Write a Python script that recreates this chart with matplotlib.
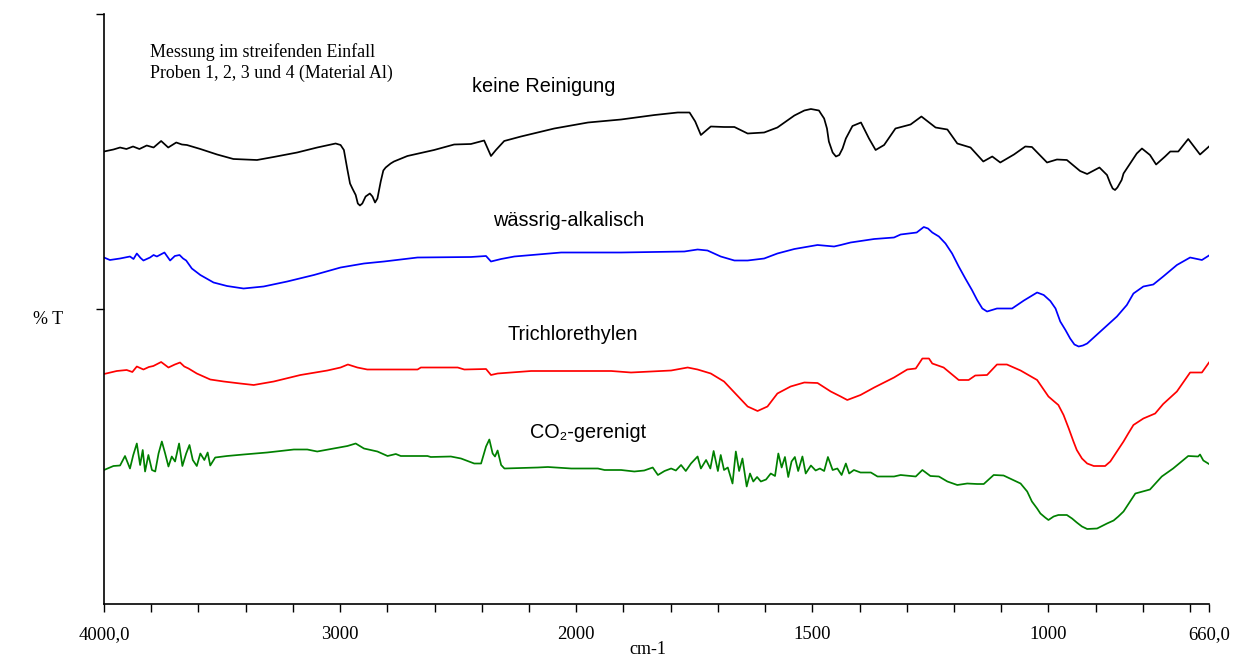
import numpy as np
import matplotlib
matplotlib.use("Agg")
import matplotlib.pyplot as plt


# IR-Spektren (Wellenzahl in cm-1, Transmission in willkürlichen %T-Einheiten, versetzt)
black_wn = [4000, 3960, 3932, 3905, 3877, 3850, 3819, 3790, 3758, 3728, 3694, 3670,
            3649, 3592, 3521, 3452, 3352, 3282, 3182, 3097, 3019, 2998, 2984, 2970,
            2958, 2948, 2934, 2925, 2916, 2906, 2892, 2874, 2863, 2852, 2842, 2828,
            2817, 2807, 2786, 2772, 2715, 2602, 2517, 2446,
            2390, 2361, 2340, 2305, 2234, 2093, 1975, 1905, 1834, 1785, 1760, 1748,
            1736, 1715, 1687, 1665, 1637, 1602, 1574, 1538, 1517, 1503, 1486, 1482,
            1475, 1469, 1465, 1457, 1450, 1443, 1436, 1429, 1415, 1397, 1380, 1366,
            1348, 1324, 1292, 1269,
            1239, 1214, 1193, 1165, 1138, 1119, 1102, 1073, 1049, 1035, 1003, 982,
            961, 933, 918, 892, 876, 869, 864, 859, 854, 845, 841, 827, 813, 802, 785,
            772, 753, 742, 725, 704, 679, 660]
black_t = [90.5, 90.9, 91.3, 91.0, 91.5, 91.0, 91.7, 91.3, 92.6, 91.3, 92.3, 91.9,
           91.8, 91.0, 89.9, 89.0, 88.8, 89.4, 90.3, 91.3, 92.1, 91.8, 90.8, 87.1,
           84.1, 83.1, 81.8, 80.1, 79.7, 80.1, 81.5, 82.1, 81.5, 80.3, 81.1, 84.5,
           86.7, 87.3, 88.1, 88.5, 89.6, 90.8, 91.9, 92.0,
           92.7, 89.6, 90.8, 92.6, 93.5, 95.1, 96.3, 96.9, 97.8, 98.3, 98.3, 96.5,
           93.8, 95.5, 95.4, 95.4, 94.1, 94.3, 95.3, 97.7, 98.7, 99.0, 98.7, 98.1,
           97.1, 95.1, 92.5, 90.3, 89.5, 89.8, 91.1, 93.1, 95.6, 96.3, 93.1, 90.8,
           91.8, 95.1, 95.9, 97.5,
           95.3, 94.9, 92.1, 91.3, 88.5, 89.5, 88.3, 89.9, 91.5, 91.4, 88.3, 88.9,
           88.8, 86.6, 86.0, 87.3, 85.8, 84.1, 83.1, 82.8, 83.3, 84.8, 86.1, 88.1, 90.1,
           91.1, 89.8, 87.9, 89.5, 90.5, 90.5, 93.0, 89.9, 91.5]

blue_wn = [4000, 3975, 3932, 3890, 3875, 3861, 3845, 3833, 3805, 3790, 3776, 3760,
           3744, 3720, 3700, 3680, 3665, 3652, 3628, 3592, 3536, 3479, 3409, 3324,
           3224, 3111, 2998, 2899, 2814, 2672, 2446, 2382, 2361, 2318, 2262, 2163,
           2064, 1905, 1771, 1743, 1722, 1694, 1665, 1637, 1602, 1574, 1538, 1489,
           1454, 1440, 1419, 1369, 1327, 1313, 1279, 1264, 1255, 1246, 1232, 1218,
           1204, 1190, 1176, 1162, 1151, 1140, 1130, 1109, 1077, 1052, 1024, 1010,
           996, 985, 975, 964, 954, 945, 936, 927, 918, 904, 883, 855,
           834, 820, 799, 778, 757, 728, 700, 675, 660]
blue_t = [69.3, 68.8, 69.1, 69.5, 69.0, 70.1, 69.2, 68.7, 69.3, 69.8, 69.5, 69.9,
          70.3, 68.7, 69.6, 69.8, 69.1, 68.7, 67.1, 65.8, 64.3, 63.6, 63.1, 63.5,
          64.5, 65.8, 67.3, 68.1, 68.5, 69.3, 69.4, 69.6, 68.5, 69.0, 69.5, 69.9,
          70.3, 70.3, 70.5, 70.9, 70.7, 69.5, 68.7, 68.7, 69.1, 70.1, 71.0, 71.8,
          71.5, 71.8, 72.3, 73.0, 73.3, 73.9, 74.3, 75.4, 75.1, 74.3, 73.5, 72.1,
          70.1, 67.5, 65.1, 62.8, 60.8, 59.1, 58.5, 59.1, 59.1, 60.7, 62.3, 61.8,
          60.6, 59.1, 56.5, 54.8, 53.1, 51.9, 51.5, 51.7, 52.1, 53.3, 55.1, 57.5,
          59.8, 62.1, 63.5, 63.9, 65.5, 67.8, 69.3, 68.8, 69.7]

red_wn = [4000, 3946, 3904, 3880, 3861, 3833, 3810, 3791, 3758, 3727, 3700, 3678,
          3660, 3642, 3607, 3550, 3493, 3423, 3366, 3281, 3168, 3054, 2998, 2967,
          2927, 2885, 2672, 2658, 2502, 2474, 2382, 2361, 2333, 2191, 1926, 1884,
          1799, 1764, 1743, 1715, 1687, 1658, 1637, 1616, 1595, 1574, 1546, 1517,
          1489, 1461, 1440, 1426, 1398, 1369, 1327, 1299, 1281, 1267, 1253, 1246,
          1222, 1190, 1169, 1155, 1130, 1109, 1088, 1059, 1024, 1000, 989, 979, 968,
          957, 947, 940, 929, 918, 904, 880, 869, 855, 841, 831, 820, 799, 774, 757,
          728, 700, 675, 660]
red_t = [46.0, 46.6, 46.8, 46.4, 47.5, 46.9, 47.4, 47.6, 48.4, 47.3, 47.9, 48.3,
         47.5, 47.1, 46.1, 44.9, 44.5, 44.1, 43.8, 44.5, 45.8, 46.7, 47.3, 47.9,
         47.3, 46.9, 46.9, 47.3, 47.3, 46.9, 47.0, 45.8, 46.1, 46.6, 46.6, 46.3,
         46.7, 47.3, 46.9, 46.1, 44.5, 41.6, 39.5, 38.6, 39.5, 42.1, 43.5, 44.3,
         44.2, 42.5, 41.5, 40.8, 41.8, 43.3, 45.3, 46.9, 47.1, 49.1, 49.1, 48.1,
         47.3, 44.8, 44.8, 45.7, 45.8, 47.9, 47.9, 46.7, 44.8, 41.5, 40.6, 39.8, 37.8,
         35.1, 32.5, 30.8, 29.1, 28.1, 27.6, 27.6, 28.5, 30.5, 32.5, 34.1, 35.8, 37.1,
         38.1, 40.0, 42.5, 46.3, 46.3, 48.3]

green_wn = [4000, 3960, 3932, 3911, 3890, 3876, 3861, 3847, 3836, 3826, 3812, 3797,
            3783, 3769, 3755, 3741, 3727, 3713, 3699, 3682, 3668, 3652, 3638, 3624,
            3607, 3592, 3575, 3561, 3550, 3529, 3479, 3409, 3309, 3196, 3139, 3097,
            3026, 2969, 2934, 2899, 2842, 2799, 2764, 2743, 2630, 2616, 2531, 2488,
            2432, 2403, 2382, 2368, 2354, 2344, 2333, 2318, 2304, 2163, 2120, 2021,
            1954, 1940, 1905, 1877, 1856, 1838, 1827, 1813, 1799, 1789, 1778, 1768,
            1757, 1743, 1736, 1725, 1716, 1709, 1700, 1694, 1687, 1679, 1669, 1662,
            1655, 1648, 1639, 1632, 1625, 1617, 1609, 1598, 1588, 1579, 1572, 1565,
            1558, 1551, 1544, 1537, 1530, 1521, 1514, 1503, 1493, 1484, 1475, 1467,
            1457, 1447, 1438, 1429, 1422, 1412, 1398, 1376, 1362, 1327, 1313, 1281,
            1267, 1250, 1232, 1214, 1193, 1172, 1151, 1137, 1116, 1095, 1059, 1045,
            1035, 1024, 1017, 1007, 1000, 989, 979, 961, 950, 940, 929, 918, 897, 876,
            862, 852, 841, 834, 823, 816, 785, 760, 736, 704, 683, 679, 672, 660]
green_t = [26.8, 27.6, 27.7, 29.6, 27.1, 29.8, 32.1, 27.8, 30.8, 26.5, 29.8, 26.8,
           26.5, 30.1, 32.5, 30.1, 27.5, 29.5, 28.5, 32.1, 27.6, 30.1, 31.8, 28.8,
           27.6, 30.1, 28.8, 30.3, 27.7, 29.3, 29.6, 29.9, 30.3, 30.9, 30.9, 30.5,
           31.1, 31.6, 32.1, 31.1, 30.5, 29.6, 30.0, 29.6, 29.6, 29.4, 29.5, 29.1,
           28.1, 28.1, 31.5, 32.9, 30.1, 29.5, 30.7, 27.8, 27.1, 27.3, 27.4, 27.1,
           27.1, 26.8, 26.8, 26.5, 26.7, 27.3, 25.8, 26.6, 27.1, 26.7, 27.8, 26.6,
           28.1, 29.5, 27.1, 28.8, 27.1, 30.6, 26.6, 29.8, 26.8, 27.3, 24.1, 30.5,
           26.6, 29.1, 23.5, 26.1, 24.5, 25.4, 24.5, 24.9, 26.1, 25.6, 30.1, 27.3,
           29.4, 25.4, 28.5, 29.4, 26.6, 29.5, 26.1, 27.7, 26.7, 27.1, 26.6, 29.4,
           26.8, 27.1, 25.8, 28.1, 26.1, 26.8, 26.3, 26.3, 25.5, 25.5, 25.8, 25.5,
           26.8, 25.6, 25.5, 24.5, 23.8, 24.1, 24.0, 24.0, 25.8, 25.7, 24.1, 22.5,
           20.5, 19.1, 18.1, 17.3, 16.8, 17.5, 17.8, 17.8, 17.1, 16.3, 15.5, 15.0, 15.1,
           16.1, 16.7, 17.5, 18.5, 19.5, 21.1, 22.1, 22.9, 25.5, 27.1, 29.6, 29.5,
           29.9, 28.7, 28.0]

major_ticks = [4000, 3000, 2000, 1500, 1000, 660]
major_labels = ["4000,0", "3000", "2000", "1500", "1000", "660,0"]
minor_ticks = [3800, 3600, 3400, 3200, 2800, 2600, 2400, 2200,
               1900, 1800, 1700, 1600, 1400, 1300, 1200, 1100, 900, 800, 700]


# Abszisse wie am Spektrometer: unterhalb 2000 cm-1 doppelt gedehnt
def wn_forward(x):
    x = np.asarray(x, dtype=float)
    return np.where(x >= 2000, x, 2 * x - 2000)


def wn_inverse(u):
    u = np.asarray(u, dtype=float)
    return np.where(u >= 2000, u, (u + 2000) / 2)


SERIF = ["Liberation Serif", "DejaVu Serif"]
SANS = ["Liberation Sans", "DejaVu Sans"]

fig = plt.figure(figsize=(12.41, 6.62), dpi=100)
ax = fig.add_axes([104 / 1241, 58 / 662, 1105 / 1241, 590 / 662])

line_kw = dict(lw=1.25, solid_joinstyle="round")
ax.plot(black_wn, black_t, color="black", **line_kw)
ax.plot(blue_wn, blue_t, color="#0000ff", **line_kw)
ax.plot(red_wn, red_t, color="#ff0000", **line_kw)
ax.plot(green_wn, green_t, color="#008000", **line_kw)

ax.set_xscale("function", functions=(wn_forward, wn_inverse))
ax.set_xlim(4000, 660)
ax.set_ylim(0, 118)

ax.set_xticks(major_ticks)
ax.set_xticklabels(major_labels, fontfamily=SERIF, fontsize=13.5)
ax.set_xticks(minor_ticks, minor=True)
ax.set_yticks([59, 118])
ax.set_yticklabels([])
ax.tick_params(axis="both", which="both", direction="out", length=6, width=1)
ax.tick_params(axis="x", which="major", pad=10)

for side in ["top", "right"]:
    ax.spines[side].set_visible(False)
for side in ["left", "bottom"]:
    ax.spines[side].set_linewidth(1.2)

# Beschriftung der Kurven
ax.text(2136, 103.4, "keine Reinigung", ha="center", va="center",
        fontfamily=SANS, fontsize=14.3)
ax.text(2034, 76.8, "wässrig-alkalisch", ha="center", va="center",
        fontfamily=SANS, fontsize=14.3)
ax.text(2013, 54.0, "Trichlorethylen", ha="center", va="center",
        fontfamily=SANS, fontsize=14.3)
ax.text(1975, 34.2, "CO₂-gerenigt", ha="center", va="center",
        fontfamily=SANS, fontsize=14.3)

ax.text(3805, 110.4, "Messung im streifenden Einfall", ha="left", va="center",
        fontfamily=SERIF, fontsize=12.9)
ax.text(3805, 106.2, "Proben 1, 2, 3 und 4 (Material Al)", ha="left", va="center",
        fontfamily=SERIF, fontsize=12.9)

fig.text(48 / 1241, 1 - 320 / 662, "% T", ha="center", va="center",
         fontfamily=SERIF, fontsize=13)
fig.text(648 / 1241, 1 - 650 / 662, "cm-1", ha="center", va="center",
         fontfamily=SERIF, fontsize=13)

fig.savefig("out.png", dpi=100)
